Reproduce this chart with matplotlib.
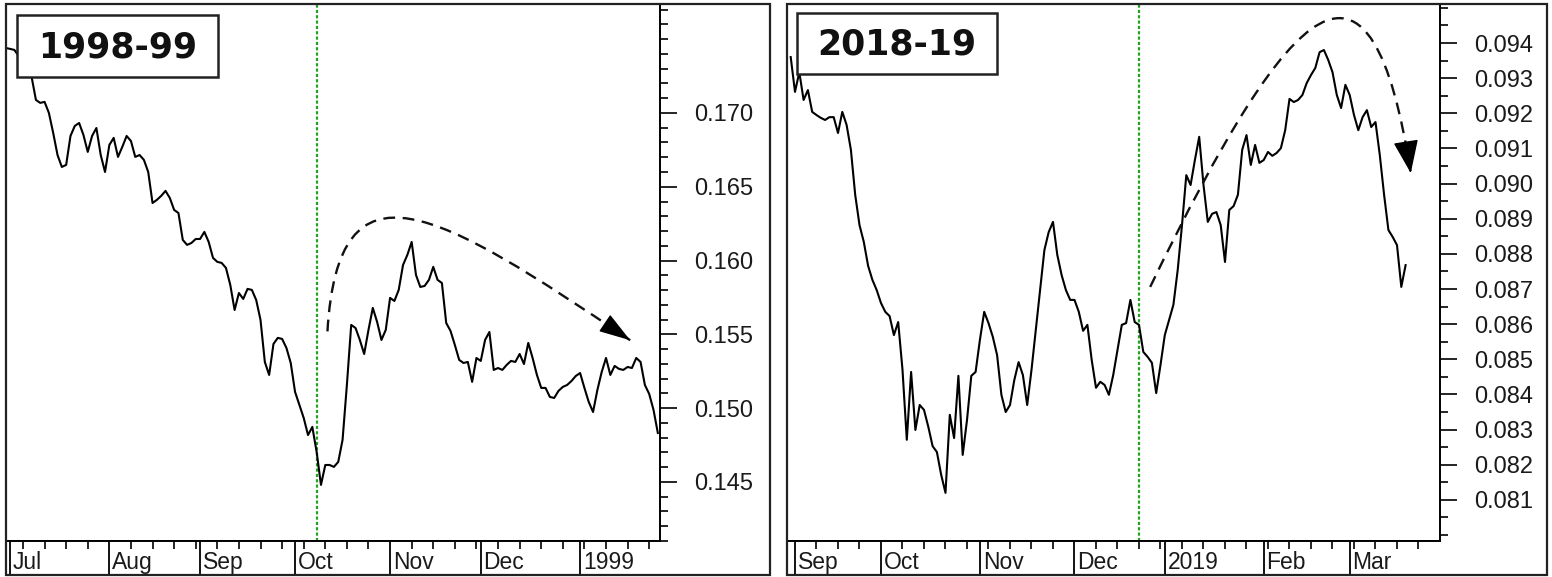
import numpy as np
import pandas as pd
import matplotlib
matplotlib.use("Agg")
import matplotlib.pyplot as plt
from matplotlib.patches import Rectangle, PathPatch
from matplotlib.path import Path
from matplotlib.ticker import MultipleLocator, FixedLocator, FormatStrFormatter

plt.rcParams['font.family'] = ['Liberation Sans', 'DejaVu Sans']

# 1998-99 panel: one close per trading day, starting 1998-06-30
start_98 = "1998-06-30"
end_98 = "1999-01-27"
event_98 = "1998-10-08"
close_98 = [
    0.17440, 0.17434, 0.17427, 0.17386, 0.17346, 0.17291, 0.17244, 0.17088, 0.17068, 0.17075,
    0.17000, 0.16864, 0.16715, 0.16634, 0.16648, 0.16844, 0.16912, 0.16932, 0.16851, 0.16736,
    0.16844, 0.16898, 0.16715, 0.16600, 0.16783, 0.16831, 0.16702, 0.16770, 0.16844, 0.16810,
    0.16702, 0.16715, 0.16682, 0.16600, 0.16390, 0.16411, 0.16438, 0.16472, 0.16424, 0.16343,
    0.16322, 0.16140, 0.16106, 0.16119, 0.16146, 0.16146, 0.16194, 0.16126, 0.16018, 0.15991,
    0.15984, 0.15950, 0.15835, 0.15665, 0.15780, 0.15740, 0.15808, 0.15801, 0.15733, 0.15598,
    0.15313, 0.15225, 0.15435, 0.15476, 0.15469, 0.15408, 0.15306, 0.15110, 0.15022, 0.14934,
    0.14818, 0.14873, 0.14703, 0.14480, 0.14615, 0.14615, 0.14602, 0.14636, 0.14785, 0.15157,
    0.15564, 0.15543, 0.15462, 0.15367, 0.15530, 0.15679, 0.15584, 0.15462, 0.15530, 0.15747,
    0.15726, 0.15801, 0.15970, 0.16038, 0.16126, 0.15902, 0.15821, 0.15828, 0.15869, 0.15957,
    0.15869, 0.15848, 0.15577, 0.15523, 0.15428, 0.15327, 0.15306, 0.15313, 0.15178, 0.15340,
    0.15320, 0.15462, 0.15516, 0.15259, 0.15272, 0.15259, 0.15293, 0.15320, 0.15313, 0.15367,
    0.15299, 0.15442, 0.15340, 0.15225, 0.15137, 0.15137, 0.15076, 0.15069, 0.15117, 0.15144,
    0.15157, 0.15184, 0.15218, 0.15238, 0.15137, 0.15042, 0.14974, 0.15123, 0.15245, 0.15340,
    0.15225, 0.15286, 0.15266, 0.15259, 0.15279, 0.15272, 0.15340, 0.15313, 0.15157, 0.15096,
    0.14988, 0.14832,
]
yticks_98 = [0.145, 0.150, 0.155, 0.160, 0.165, 0.170]
# dashed arc: bezier control points (trading day, value)
arc_98 = [(74.5, 0.1552), (77.0, 0.1675), (100.0, 0.1634), (144.6, 0.1546)]

# 2018-19 panel: one close per trading day, starting 2018-08-31
start_18 = "2018-08-31"
end_18 = "2019-03-29"
event_18 = "2018-12-24"
close_18 = [
    0.09360, 0.09261, 0.09317, 0.09238, 0.09266, 0.09204, 0.09195, 0.09187, 0.09181, 0.09189,
    0.09189, 0.09144, 0.09204, 0.09167, 0.09096, 0.08968, 0.08882, 0.08834, 0.08766, 0.08726,
    0.08697, 0.08660, 0.08635, 0.08623, 0.08569, 0.08606, 0.08470, 0.08271, 0.08464, 0.08299,
    0.08370, 0.08356, 0.08308, 0.08253, 0.08236, 0.08171, 0.08120, 0.08342, 0.08276, 0.08453,
    0.08228, 0.08327, 0.08453, 0.08464, 0.08555, 0.08635, 0.08603, 0.08564, 0.08512, 0.08399,
    0.08350, 0.08370, 0.08441, 0.08492, 0.08455, 0.08370, 0.08470, 0.08583, 0.08697, 0.08811,
    0.08862, 0.08891, 0.08797, 0.08740, 0.08697, 0.08669, 0.08669, 0.08635, 0.08581, 0.08598,
    0.08498, 0.08419, 0.08436, 0.08427, 0.08399, 0.08455, 0.08527, 0.08598, 0.08603, 0.08669,
    0.08606, 0.08598, 0.08521, 0.08507, 0.08490, 0.08404, 0.08484, 0.08569, 0.08612, 0.08655,
    0.08754, 0.08882, 0.09024, 0.08996, 0.09067, 0.09133, 0.08996, 0.08891, 0.08914, 0.08919,
    0.08882, 0.08777, 0.08925, 0.08936, 0.08968, 0.09096, 0.09138, 0.09053, 0.09110, 0.09059,
    0.09067, 0.09090, 0.09079, 0.09087, 0.09101, 0.09152, 0.09241, 0.09232, 0.09238, 0.09252,
    0.09286, 0.09309, 0.09329, 0.09374, 0.09380, 0.09352, 0.09317, 0.09252, 0.09215, 0.09281,
    0.09252, 0.09195, 0.09152, 0.09189, 0.09209, 0.09161, 0.09175, 0.09081, 0.08968, 0.08868,
    0.08848, 0.08825, 0.08706, 0.08768,
]
yticks_18 = [0.081, 0.082, 0.083, 0.084, 0.085, 0.086, 0.087,
             0.088, 0.089, 0.090, 0.091, 0.092, 0.093, 0.094]
arc_18 = [(83.6, 0.08706), (117.0, 0.0955), (135.0, 0.0975), (144.2, 0.0903)]

W, H = 1552, 577
fig = plt.figure(figsize=(W / 100, H / 100), dpi=100)
fig.patch.set_facecolor('white')


def fx(px):
    return px / W


def fy(py):
    return 1 - py / H


def draw_panel(x0, x1, start, end, closes, event, xlim, ylim, yticks, yminor,
               arc, head, title, box):
    ax = fig.add_axes([fx(x0), fy(541), (x1 - x0) / W, (541 - 4) / H])
    band = fig.add_axes([fx(x0), fy(575), (x1 - x0) / W, (575 - 541) / H], sharex=ax)

    cal = pd.bdate_range(start, end)
    pos = np.arange(len(cal))
    ax.plot(pos[:len(closes)], closes, color='black', lw=1.5, zorder=3)

    ev = cal.get_loc(pd.Timestamp(event))
    ax.axvline(ev, color='#1fa31f', lw=1.6, ls=(0, (1.4, 1.0)), zorder=2)

    # dashed arc with arrow head
    codes = [Path.MOVETO, Path.CURVE4, Path.CURVE4, Path.CURVE4]
    ax.add_patch(PathPatch(Path(arc, codes), fill=False, ec='#111111',
                           lw=1.7, ls=(0, (5, 3.2)), zorder=4))
    p2, p3 = np.array(arc[2]), np.array(arc[3])
    tail = p3 - 0.09 * (p3 - p2)
    ax.annotate('', xy=tuple(p3), xytext=tuple(tail),
                arrowprops=dict(arrowstyle=head, color='black', lw=1,
                                shrinkA=0, shrinkB=0, mutation_scale=20),
                zorder=5)

    ax.set_xlim(*xlim)
    ax.set_ylim(*ylim)
    ax.yaxis.tick_right()
    ax.yaxis.set_major_locator(FixedLocator(yticks))
    ax.yaxis.set_minor_locator(MultipleLocator(yminor))
    ax.yaxis.set_major_formatter(FormatStrFormatter('%.3f'))
    ax.tick_params(axis='y', which='major', length=12.5, width=1.2, pad=12,
                   labelsize=17, labelcolor='#1a1a1a', direction='out')
    ax.tick_params(axis='y', which='minor', length=6, width=1.2, direction='out')
    ax.tick_params(axis='x', which='both', bottom=False, labelbottom=False)
    for s in ax.spines.values():
        s.set_linewidth(1.4)

    # date band under the plot
    starts = [i for i in range(1, len(cal)) if cal[i].month != cal[i - 1].month]
    mondays = [i for i in range(1, len(cal)) if cal[i].weekday() == 0 and i not in starts]
    band.set_ylim(0, 1)
    band.set_yticks([])
    band.vlines(starts, 0, 1, color='black', lw=1.3)
    band.xaxis.set_ticks_position('top')
    band.set_xticks([])
    band.set_xticks(mondays, minor=True)
    band.tick_params(axis='x', which='minor', direction='in', length=5.5, width=1.2,
                     top=True, bottom=False, labeltop=False)
    band.spines['right'].set_visible(False)
    for s in band.spines.values():
        s.set_linewidth(1.4)
    for i in starts:
        d = cal[i]
        lab = str(d.year) if d.month == 1 else d.strftime('%b')
        band.annotate(lab, (i, 0.38), xytext=(2, 0), textcoords='offset points',
                      ha='left', va='center', fontsize=16.5, color='#1a1a1a')

    # panel frame and title box
    fig.add_artist(Rectangle((fx(x0), fy(575)), (box[4] - x0) / W, (575 - 4) / H,
                             fill=False, ec='#222222', lw=1.6, zorder=6))
    bx0, by0, bx1, by1 = box[:4]
    fig.add_artist(Rectangle((fx(bx0), fy(by1)), (bx1 - bx0) / W, (by1 - by0) / H,
                             fc='white', ec='#222222', lw=1.8, zorder=6))
    fig.text(fx((bx0 + bx1) / 2), fy((by0 + by1) / 2 + 1), title, ha='center',
             va='center', fontsize=25, fontweight='heavy', family='DejaVu Sans',
             color='#111111', zorder=7)


draw_panel(6, 660, start_98, end_98, close_98, event_98,
           (0.07, 151.5), (0.14100, 0.17738), yticks_98, 0.001,
           arc_98, '-|>,head_length=1.0,head_width=0.32', '1998-99',
           (17, 15, 218, 77, 770))

draw_panel(787, 1440, start_18, end_18, close_18, event_18,
           (-0.86, 151.0), (0.07983, 0.09511), yticks_18, 0.0005,
           arc_18, '-|>,head_length=1.05,head_width=0.4', '2018-19',
           (797, 13, 997, 74, 1547))

fig.savefig('out.png', dpi=100, facecolor='white')
